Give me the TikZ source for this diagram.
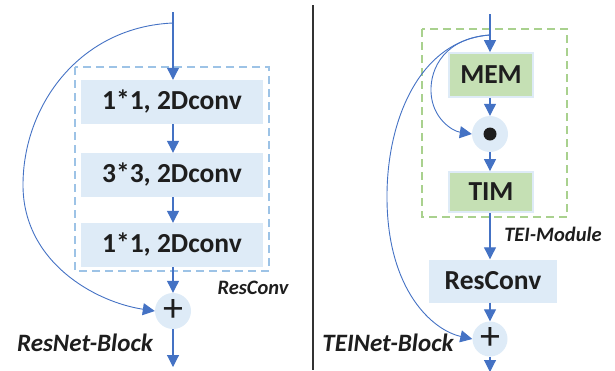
\documentclass[tikz,border=0pt]{standalone}
\usepackage{fontspec}
\setmainfont{Carlito}
\usetikzlibrary{arrows.meta}
\definecolor{flow}{HTML}{4472C4}
\definecolor{boxfill}{HTML}{DEEBF7}
\definecolor{boxdash}{HTML}{9DC3E6}
\definecolor{modfill}{HTML}{C5E0B4}
\definecolor{moddash}{HTML}{A9D18E}
\definecolor{ink}{HTML}{1E1E1E}
\begin{document}
\begin{tikzpicture}[x=1pt,y=-1pt,
  flowline/.style={draw=flow,line width=1.1pt,-{Triangle[width=12pt,length=12pt]}},
  skipline/.style={draw=flow,line width=0.9pt,-{Triangle[width=12pt,length=12pt]}},
  convbox/.style={fill=boxfill,inner sep=0pt,minimum width=182pt,minimum height=44pt,
    text=ink,font=\bfseries\fontsize{27.5}{30}\selectfont},
  modbox/.style={fill=modfill,draw=boxfill,line width=1.8pt,inner sep=0pt,
    minimum width=84pt,text=ink,font=\bfseries\fontsize{27.5}{30}\selectfont},
  opcircle/.style={circle,fill=boxfill,inner sep=0pt,text=ink,
    font=\fontsize{40}{40}\selectfont},
  blocklabel/.style={text=ink,font=\bfseries\itshape\fontsize{25}{28}\selectfont},
  grouplabel/.style={text=ink,font=\bfseries\itshape\fontsize{20.5}{24}\selectfont},
  groupframe/.style={line width=1.8pt,dash pattern=on 8pt off 5pt}]
\useasboundingbox (0,0) rectangle (615,370);

% ---------------- ResNet block ----------------
\draw[groupframe,draw=boxdash] (75,67) rectangle (269,271);
\node[convbox] (c1) at (172,102) {1*1, 2Dconv};
\node[convbox] (c2) at (172,175) {3*3, 2Dconv};
\node[convbox] (c3) at (172,245) {1*1, 2Dconv};
\node[opcircle,minimum size=36pt] (addL) at (173,311) {};
\node[text=ink,font=\fontsize{40}{40}\selectfont] (plusL) at (173,310) {+};
\coordinate (inL) at (173,12);
\coordinate (forkL) at (173,23);
\coordinate (outL) at (173,367);

\draw[flowline] (inL) -- (inL |- c1.north);
\draw[flowline] (c1.south -| inL) -- (c2.north -| inL);
\draw[flowline] (c2.south -| inL) -- (c3.north -| inL);
\draw[flowline] (c3.south -| inL) -- (addL.north);
\draw[flowline] (addL.south) -- (outL);
\draw[skipline] (forkL) .. controls (80,27) and (23,105) .. (23,185)
  .. controls (23,262) and (95,302) .. (addL.west);

\node[grouplabel] (labResConv) at (253,288) {ResConv};
\node[blocklabel] (labResNet) at (85,343) {ResNet-Block};

% ---------------- separator ----------------
\coordinate (sepTop) at (313,5);
\coordinate (sepBot) at (313,370);
\draw[line width=1.5pt,draw=black!80] (sepTop) -- (sepBot);

% ---------------- TEINet block ----------------
\draw[groupframe,draw=moddash] (422,29) rectangle (567,217);
\node[modbox,minimum height=44pt] (mem) at (491,75) {MEM};
\node[opcircle,minimum size=36pt] (dot) at (490,134) {};
\fill[ink] (dot) circle (6.5pt);
\node[modbox,minimum height=40pt] (tim) at (491,192) {TIM};
\node[convbox,minimum width=128pt,minimum height=43pt] (rc) at (493,281) {ResConv};
\node[opcircle,minimum size=35pt] (addR) at (490,339) {};
\node[text=ink,font=\fontsize{40}{40}\selectfont] (plusR) at (490,338) {+};
\coordinate (inR) at (490,14);
\coordinate (forkR) at (490,35);
\coordinate (outR) at (490,372);

\draw[flowline] (inR) -- (inR |- mem.north);
\draw[flowline] (mem.south -| inR) -- (dot.north);
\draw[flowline] (dot.south) -- (tim.north -| inR);
\draw[flowline] (tim.south -| inR) -- (rc.north -| inR);
\draw[flowline] (rc.south -| inR) -- (addR.north);
\draw[flowline] (addR.south) -- (outR);
\draw[skipline] (forkR) .. controls (445,38) and (430,68) .. (431,92)
  .. controls (432,118) and (452,131) .. (dot.west);
\draw[skipline] (forkR) .. controls (420,40) and (386,120) .. (387,200)
  .. controls (388,290) and (432,330) .. (addR.west);

\node[grouplabel] (labTEI) at (553,234) {TEI-Module};
\node[blocklabel] (labTEINet) at (388,343) {TEINet-Block};
\end{tikzpicture}
\end{document}
